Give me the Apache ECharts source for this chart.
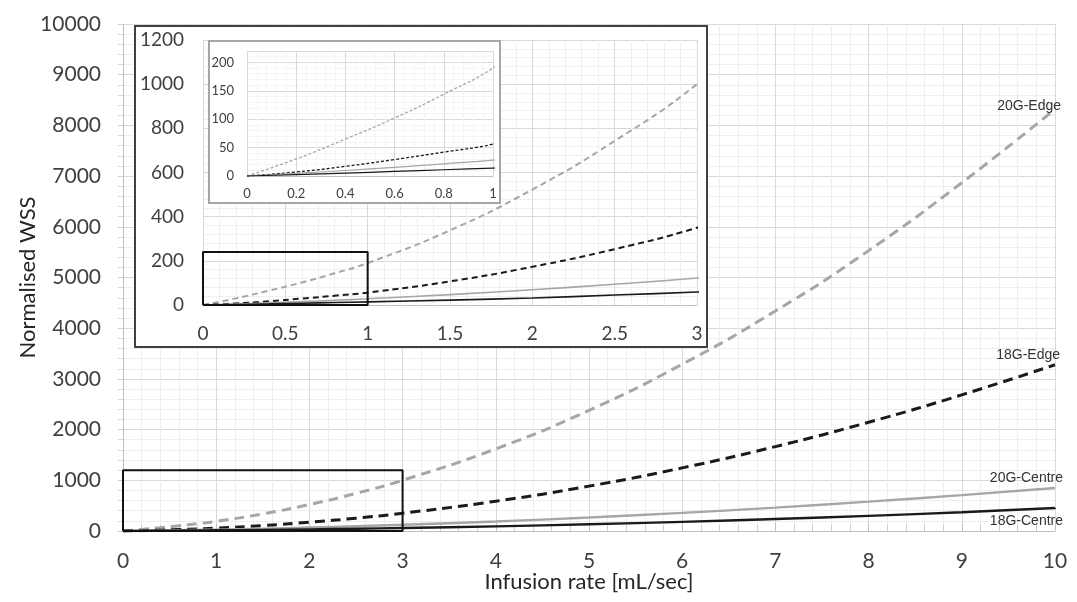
<!DOCTYPE html>
<html>
<head>
<meta charset="utf-8">
<script src="https://cdn.jsdelivr.net/npm/echarts@6/dist/echarts.min.js"></script>
<style>
  html, body { margin: 0; padding: 0; background: #fff; }
  #chart { width: 1077px; height: 602px; }
</style>
</head>
<body>
<div id="chart"></div>
<script>
// infusion rate samples [mL/sec]
const xs = [0, 0.2, 0.4, 0.6, 0.8, 1, 1.5, 2, 2.5, 3, 4, 5, 6, 7, 8, 9, 10];
// normalised WSS
const edge20 = [0, 30, 65, 102, 144, 190, 338, 523, 743, 1000, 1620, 2380, 3290, 4340, 5530, 6870, 8320];
const edge18 = [0, 7, 17, 29, 42, 56, 107, 173, 253, 350, 588, 885, 1245, 1665, 2145, 2685, 3280];
const centre20 = [0, 4.6, 9.7, 15.3, 21.4, 28, 47, 69, 94, 122, 188, 267, 358, 462, 579, 708, 848];
const centre18 = [0, 2.5, 5, 8, 11, 14, 22, 32, 45, 59, 92, 132, 180, 236, 298, 370, 455];
const seriesNames = ['20G-Edge', '18G-Edge', '20G-Centre', '18G-Centre'];

// zoom rectangles [x0, y0] -> [x1, y1] in data units
const mainZoomBox = [[0, 0], [3, 1200]];
const insetZoomBox = [[0, 0], [1, 240]];

const chart = echarts.init(document.getElementById('chart'));

const font = 'Lato, "Open Sans", sans-serif';
const labelColor = '#404040';
const gridMajor = '#d9d9d9';
const grey = '#a6a6a6';
const black = '#1a1a1a';

// per-grid line looks
const looks = [
  { edgeW: 3, edgeDash: [10, 6], centreW: 2.4 },
  { edgeW: 2, edgeDash: [6, 4], centreW: 1.6 },
  { edgeW: 1.3, edgeDash: [3, 2], centreW: 1.2 },
]

function pairs(vals) {
  return xs.map((x, i) => [x, vals[i]])
}

function plain(v) {
  return String(v)
}

function makeAxes(idx, zlevel, xMax, xInt, yMax, yInt, fs, xMargin, yMargin, minorColor) {
  const common = {
    gridIndex: idx,
    zlevel: zlevel,
    z: 5,
    min: 0,
    axisLine: { show: true, lineStyle: { color: '#bfbfbf', width: 1 } },
    axisTick: { show: false },
    splitLine: { show: true, lineStyle: { color: gridMajor, width: 1 } },
    minorSplitLine: { show: true, lineStyle: { color: minorColor, width: 1 } },
  }
  return {
    x: Object.assign({}, common, {
      type: 'value', max: xMax, interval: xInt,
      minorTick: { show: false, splitNumber: 5 },
      axisLabel: { color: labelColor, fontFamily: font, fontSize: fs, margin: xMargin, formatter: plain },
    }),
    y: Object.assign({}, common, {
      type: 'value', max: yMax, interval: yInt,
      minorTick: { show: false, splitNumber: 5 },
      axisLine: { show: false },
      axisLabel: { color: labelColor, fontFamily: font, fontSize: fs, margin: yMargin, showMaxLabel: idx !== 2, formatter: plain },
    }),
  }
}

const a0 = makeAxes(0, 0, 10, 1, 10000, 1000, 21, 20, 22, '#eeeeee')
a0.x.name = 'Infusion rate [mL/sec]'
a0.x.nameLocation = 'middle'
a0.x.nameGap = 40
a0.x.nameMoveOverlap = false
a0.x.nameTextStyle = { fontFamily: font, fontSize: 22, color: '#262626' }
a0.y.name = 'Normalised WSS'
a0.y.nameLocation = 'middle'
a0.y.nameGap = 84
a0.y.nameMoveOverlap = false
a0.y.nameTextStyle = { fontFamily: font, fontSize: 22, color: '#262626' }
a0.y.axisLine = { show: true, lineStyle: { color: '#bfbfbf' } }
a0.y.axisTick = { show: true, length: 5, lineStyle: { color: '#cccccc' } }
a0.y.minorTick = { show: true, splitNumber: 5, length: 5, lineStyle: { color: '#d9d9d9' } }
a0.x.axisTick = { show: true, inside: true, length: 8, lineStyle: { color: '#bfbfbf' } }
a0.x.minorTick = { show: true, splitNumber: 5, length: 6, lineStyle: { color: '#cccccc' } }

const a1 = makeAxes(1, 1, 3, 0.5, 1200, 200, 19, 19, 19, '#f0f0f0')
const a2 = makeAxes(2, 2, 1, 0.2, 220, 50, 13, 11, 13, '#f5f5f5')

function makeSeries(idx, zlevel, withLabels) {
  const lk = looks[idx]
  const styles = [
    { color: grey, width: lk.edgeW, type: lk.edgeDash },
    { color: black, width: lk.edgeW, type: lk.edgeDash },
    { color: grey, width: lk.centreW, type: 'solid' },
    { color: black, width: lk.centreW, type: 'solid' },
  ]
  const vals = [edge20, edge18, centre20, centre18]
  const labelOffsets = [[-2, -3], [-3, -10], [0, -10], [0, 13]]
  return vals.map((v, i) => ({
    name: seriesNames[i],
    type: 'line',
    xAxisIndex: idx,
    yAxisIndex: idx,
    zlevel: zlevel,
    z: 6,
    data: pairs(v),
    smooth: true,
    showSymbol: false,
    symbol: 'none',
    clip: true,
    lineStyle: styles[i],
    itemStyle: { color: styles[i].color },
    endLabel: withLabels ? {
      show: true,
      formatter: seriesNames[i],
      fontFamily: '"Liberation Sans", Arial, sans-serif',
      fontSize: 14,
      color: '#333333',
      align: 'right',
      verticalAlign: 'middle',
      offset: labelOffsets[i],
    } : { show: false },
  }))
}

// rectangle outline drawn through the axes from the box corners
function boxSeries(idx, zlevel, box) {
  const [p0, p1] = box
  return {
    type: 'line',
    xAxisIndex: idx,
    yAxisIndex: idx,
    zlevel: zlevel,
    z: 7,
    silent: true,
    showSymbol: false,
    symbol: 'none',
    clip: false,
    data: [[p0[0], p0[1]], [p1[0], p0[1]], [p1[0], p1[1]], [p0[0], p1[1]], [p0[0], p0[1]]],
    lineStyle: { color: '#111111', width: 2 },
  }
}

const option = {
  backgroundColor: '#fff',
  animation: false,
  grid: [
    { left: 123, right: 22, top: 24, bottom: 71, zlevel: 0, containLabel: false, outerBoundsMode: 'none' },
    { left: 203, right: 380, top: 40, bottom: 297, zlevel: 1, z: 4, containLabel: false, outerBoundsMode: 'none' },
    { left: 247, right: 584, top: 51, bottom: 426, zlevel: 2, z: 4, containLabel: false, outerBoundsMode: 'none' },
  ],
  xAxis: [a0.x, a1.x, a2.x],
  yAxis: [a0.y, a1.y, a2.y],
  graphic: [
    {
      type: 'rect', zlevel: 1, z: 1,
      shape: { x: 135, y: 26, width: 572, height: 321 },
      style: { fill: '#fff', stroke: '#404040', lineWidth: 2 },
    },
    {
      type: 'rect', zlevel: 2, z: 1,
      shape: { x: 209, y: 41, width: 291, height: 162 },
      style: { fill: '#fff', stroke: grey, lineWidth: 2 },
    },
  ],
  series: [
    ...makeSeries(0, 0, true),
    boxSeries(0, 0, mainZoomBox),
    ...makeSeries(1, 1, false),
    boxSeries(1, 1, insetZoomBox),
    ...makeSeries(2, 2, false),
  ],
}

chart.setOption(option)
</script>
</body>
</html>
